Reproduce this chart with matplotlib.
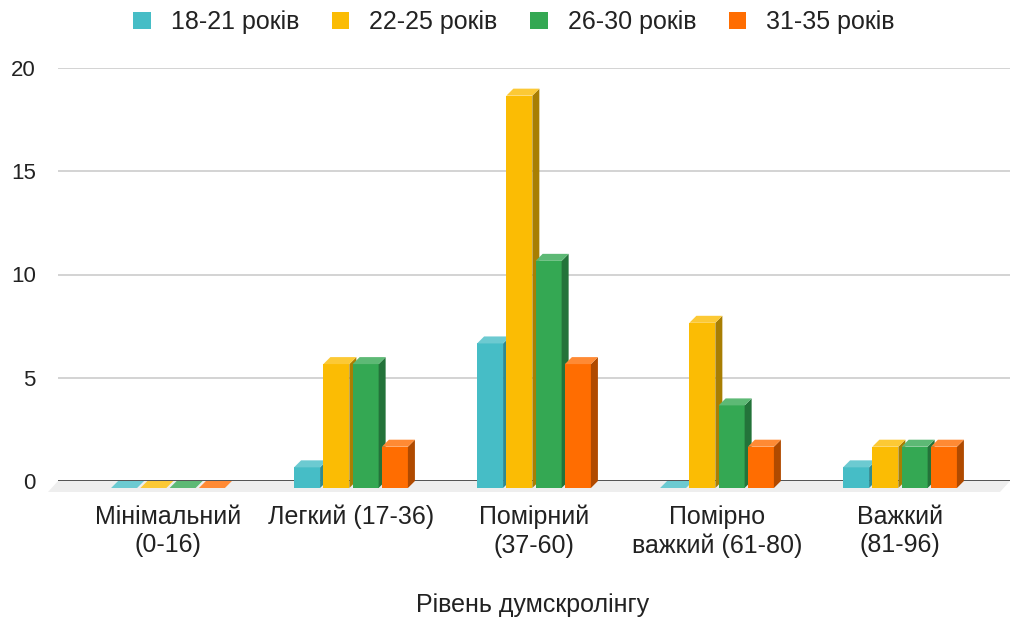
import matplotlib
matplotlib.use('Agg')
import matplotlib.pyplot as plt
from matplotlib.patches import Polygon, Patch

categories = ['Мінімальний\n(0-16)', 'Легкий (17-36)', 'Помірний\n(37-60)',
              'Помірно\nважкий (61-80)', 'Важкий\n(81-96)']
series = ['18-21 років', '22-25 років', '26-30 років', '31-35 років']
values = [
    [0, 1, 7, 0, 1],    # 18-21
    [0, 6, 19, 8, 2],   # 22-25
    [0, 6, 11, 4, 2],   # 26-30
    [0, 2, 6, 2, 2],    # 31-35
]
front_colors = ['#46BDC6', '#FBBC04', '#34A853', '#FF6D01']
top_colors = ['#6CCAD1', '#FCC935', '#5DB975', '#FF8A34']
side_colors = ['#2F8A90', '#A87E02', '#23733A', '#B04A00']

plt.rcParams['font.family'] = ['Liberation Sans', 'DejaVu Sans']

W, H = 1024, 619
fig = plt.figure(figsize=(W / 100, H / 100), dpi=100)
left_px, right_px, top_px, bot_px = 58, 1010, 68, 481
ax = fig.add_axes([left_px / W, 1 - bot_px / H, (right_px - left_px) / W, (bot_px - top_px) / H])

ax.set_xlim((left_px - 175) / 183, (right_px - 175) / 183)
ax.set_ylim(0, 20)
for s in ax.spines.values():
    s.set_visible(False)
ax.set_xticks([])
ax.set_yticks([0, 5, 10, 15, 20])
ax.tick_params(axis='y', length=0, pad=16, labelsize=16, labelcolor='#222222')

# pixel -> data units
px_x = (ax.get_xlim()[1] - ax.get_xlim()[0]) / (right_px - left_px)
px_y = 20 / (bot_px - top_px)
d = 7
dx, dy = d * px_x, d * px_y

# floor
x0, x1 = ax.get_xlim()
fdx, fdy = 10 * px_x, 11 * px_y
ax.add_patch(Polygon([(x0, 0), (x1, 0), (x1 - fdx, -fdy), (x0 - fdx, -fdy)],
                     closed=True, facecolor='#EEEEEE', edgecolor='none', clip_on=False, zorder=1))
ax.axhline(0, color='#333333', lw=1.2, zorder=2)
for yv in [5, 10, 15, 20]:
    ax.axhline(yv, color='#CCCCCC', lw=1.2, zorder=2)

step, width = 0.16, 0.142
group_w = 3 * step + width
for i in range(len(categories)):
    for j in range(len(series)):
        v = values[j][i]
        bx = i - group_w / 2 + j * step      # back-left x
        fx = bx - dx                           # front-left x
        fy0, fy1 = -dy, v - dy
        if v > 0:
            ax.add_patch(Polygon([(fx, fy0), (fx + width, fy0), (fx + width, fy1), (fx, fy1)],
                                 closed=True, facecolor=front_colors[j], edgecolor='none',
                                 clip_on=False, zorder=5))
            ax.add_patch(Polygon([(fx + width, fy0), (bx + width, 0), (bx + width, v), (fx + width, fy1)],
                                 closed=True, facecolor=side_colors[j], edgecolor='none',
                                 clip_on=False, zorder=5))
        ax.add_patch(Polygon([(fx, fy1), (fx + width, fy1), (bx + width, v), (bx, v)],
                             closed=True, facecolor=top_colors[j], edgecolor='none',
                             clip_on=False, zorder=5))

# category labels
for i, lab in enumerate(categories):
    ax.annotate(lab, xy=(i - dx, 0), xycoords='data', xytext=(0, -17), textcoords='offset points',
                ha='center', va='top', fontsize=18, color='#222222', linespacing=1.25,
                annotation_clip=False)

fig.text(533 / W, 1 - 605 / H, 'Рівень думскролінгу', ha='center', va='center',
         fontsize=18, color='#222222')

handles = [Patch(facecolor=c, edgecolor='none') for c in front_colors]
fig.legend(handles, series, loc='center', bbox_to_anchor=(514 / W, 1 - 22 / H), ncol=4,
           frameon=False, fontsize=18, handlelength=0.7, handleheight=0.7,
           handletextpad=0.8, columnspacing=1.3, labelcolor='#222222')

fig.savefig('out.png', dpi=100)
